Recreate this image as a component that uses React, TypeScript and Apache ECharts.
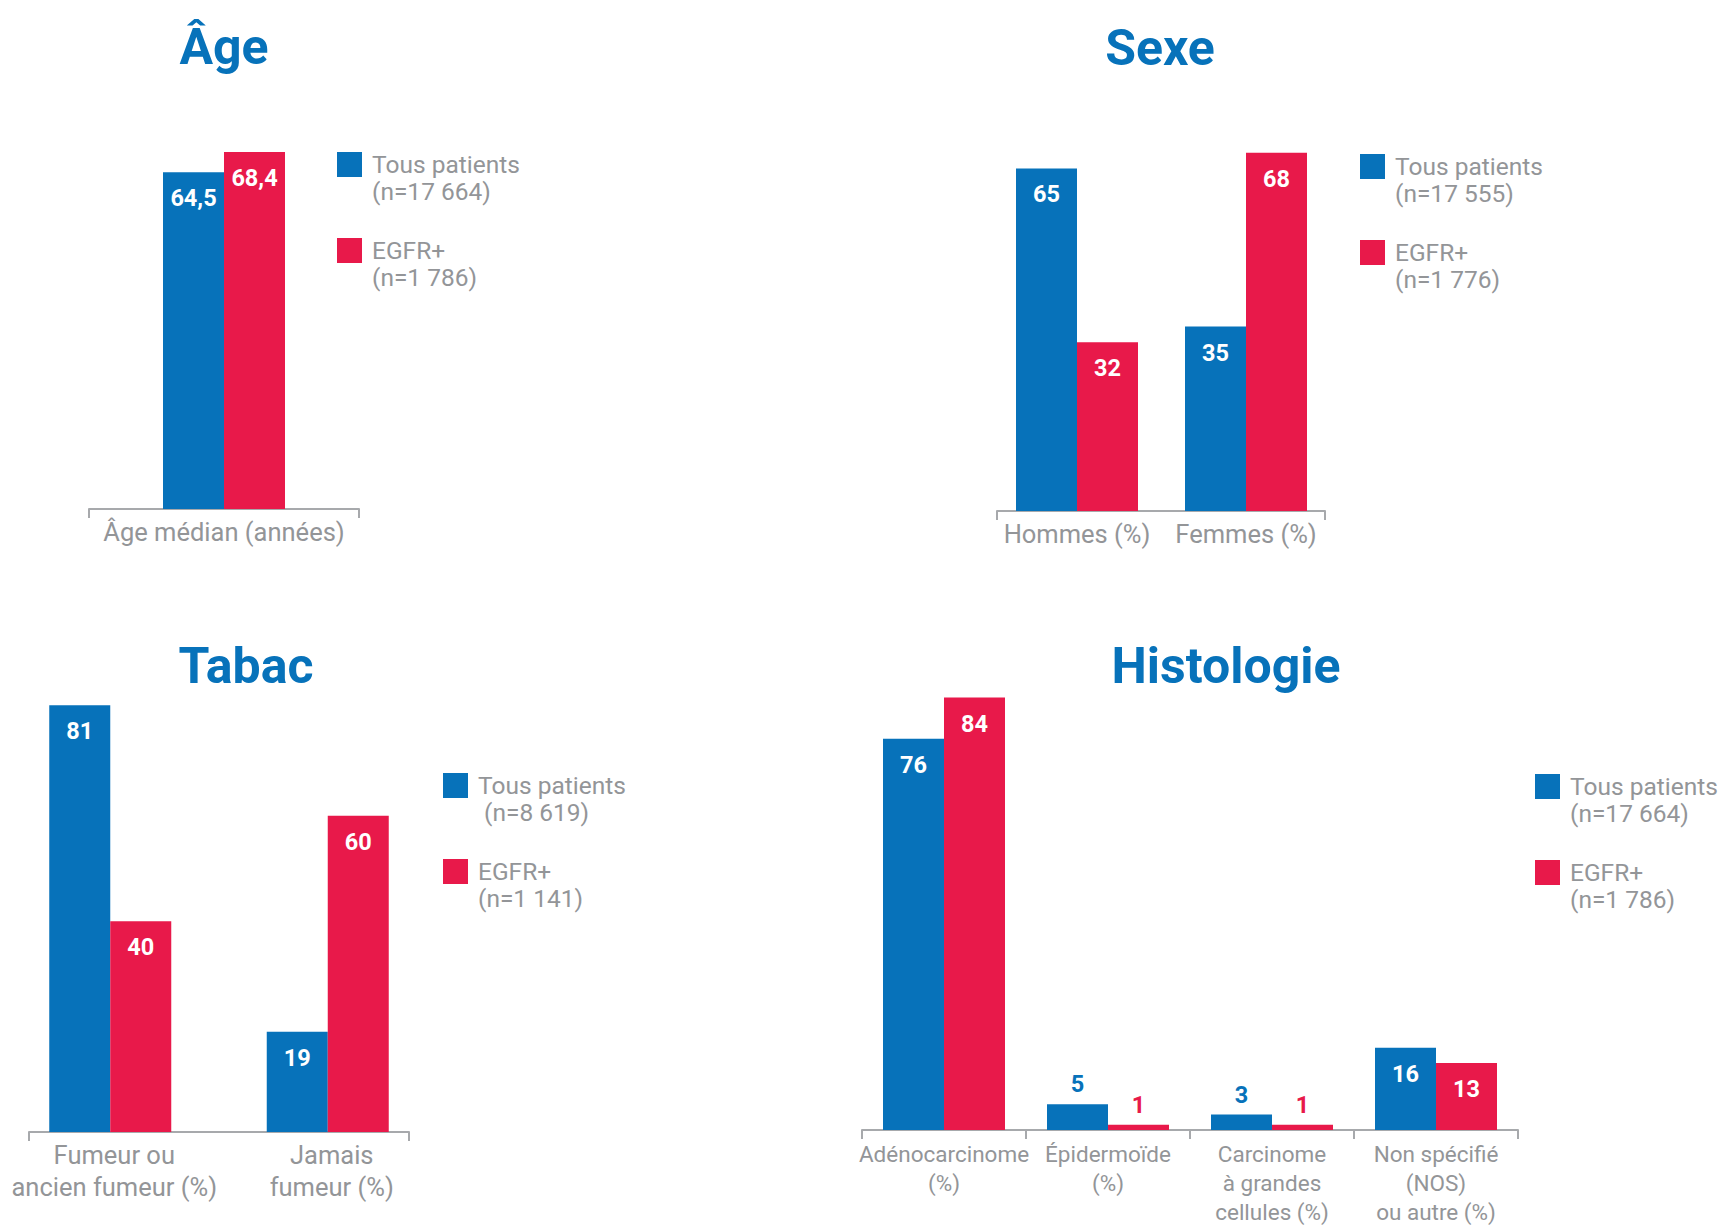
import React, { useEffect, useRef } from 'react';
import * as echarts from 'echarts';

// ---------- data ----------
const ageCategories = ['Âge médian (années)'];
const ageAll = [64.5];
const ageEgfr = [68.4];
const ageLegend = ['Tous patients\n(n=17 664)', 'EGFR+\n(n=1 786)'];

const sexeCategories = ['Hommes (%)', 'Femmes (%)'];
const sexeAll = [65, 35];
const sexeEgfr = [32, 68];
const sexeLegend = ['Tous patients\n(n=17 555)', 'EGFR+\n(n=1 776)'];

const tabacCategories = ['Fumeur ou\nancien fumeur (%)', 'Jamais\nfumeur (%)'];
const tabacAll = [81, 19];
const tabacEgfr = [40, 60];
const tabacLegend = ['Tous patients\n\u00a0(n=8 619)', 'EGFR+\n(n=1 141)'];

const histoCategories = [
  'Adénocarcinome\n(%)',
  'Épidermoïde\n(%)',
  'Carcinome\nà grandes\ncellules (%)',
  'Non spécifié\n(NOS)\nou autre (%)',
];
const histoAll = [76, 5, 3, 16];
const histoEgfr = [84, 1, 1, 13];
const histoLegend = ['Tous patients\n(n=17 664)', 'EGFR+\n(n=1 786)'];

const titles = ['Âge', 'Sexe', 'Tabac', 'Histologie'];

// ---------- styles / layout ----------
const BLUE = '#0772BA';
const RED = '#E8194A';
const GRAY_TEXT = '#939598';
const AXIS_GRAY = '#A7A9AC';
const FONT = 'Roboto';
const Y_MAX = 90;

const panels = [
  {
    title: titles[0], titleX: 224, titleY: 47,
    cats: ageCategories, all: ageAll, egfr: ageEgfr, legend: ageLegend,
    left: 89, width: 270, baseline: 509, scale: 5.22, showAxis: true, frame: null as null | number[],
    legendX: 337, legendY: 152, labelSize: 25.5, labelLH: 32, labelMargin: 7, labelPad: [0, 0, 0, 0],
  },
  {
    title: titles[1], titleX: 1160, titleY: 48,
    cats: sexeCategories, all: sexeAll, egfr: sexeEgfr, legend: sexeLegend,
    left: 992.5, width: 338, baseline: 511, scale: 5.27, showAxis: false, frame: [997, 1325],
    legendX: 1360, legendY: 154, labelSize: 25.5, labelLH: 32, labelMargin: 7, labelPad: [0, 0, 0, 0],
  },
  {
    title: titles[2], titleX: 246, titleY: 666,
    cats: tabacCategories, all: tabacAll, egfr: tabacEgfr, legend: tabacLegend,
    left: 1.5, width: 435, baseline: 1132, scale: 5.27, showAxis: false, frame: [29, 409],
    legendX: 443, legendY: 773, labelSize: 25.5, labelLH: 32, labelMargin: 7, labelPad: [0, 0, 0, 8],
  },
  {
    title: titles[3], titleX: 1226, titleY: 666,
    cats: histoCategories, all: histoAll, egfr: histoEgfr, legend: histoLegend,
    left: 862, width: 656, baseline: 1132, scale: 5.17, showAxis: true, frame: null as null | number[],
    legendX: 1535, legendY: 774, labelSize: 22.5, labelLH: 29, labelMargin: 9, labelPad: [0, 0, 0, 0],
  },
];

const fmt = (v: number) => String(v).replace('.', ',');

function buildOption() {
  const grid: any[] = [];
  const xAxis: any[] = [];
  const yAxis: any[] = [];
  const series: any[] = [];
  const legend: any[] = [];
  const title: any[] = [];

  panels.forEach((p, i) => {
    const gridH = Y_MAX * p.scale;
    grid.push({ left: p.left, width: p.width, top: p.baseline - gridH, height: gridH });
    xAxis.push({
      type: 'category',
      gridIndex: i,
      data: p.cats,
      axisLine: { show: p.showAxis, lineStyle: { color: AXIS_GRAY, width: 2 } },
      axisTick: { show: p.showAxis, length: 9, lineStyle: { color: AXIS_GRAY, width: 2 } },
      axisLabel: {
        interval: 0,
        color: GRAY_TEXT,
        fontFamily: FONT,
        fontSize: p.labelSize,
        lineHeight: p.labelLH,
        margin: p.labelMargin,
        padding: p.labelPad,
      },
      splitLine: { show: false },
    });
    yAxis.push({ type: 'value', gridIndex: i, min: 0, max: Y_MAX, show: false });

    const mk = (name: string, values: number[], color: string) => ({
      type: 'bar',
      name,
      xAxisIndex: i,
      yAxisIndex: i,
      barWidth: 61,
      barGap: '0%',
      itemStyle: { color },
      label: {
        show: true,
        position: 'insideTop',
        distance: 14,
        color: '#ffffff',
        fontFamily: FONT,
        fontWeight: 'bold',
        fontSize: 23.5,
        formatter: (prm: any) => fmt(prm.value),
      },
      data: values.map((v) =>
        v < 10 ? { value: v, label: { position: 'top', distance: 8, color } } : { value: v }
      ),
    });
    series.push(mk(p.legend[0], p.all, BLUE));
    series.push(mk(p.legend[1], p.egfr, RED));

    legend.push({
      orient: 'vertical',
      left: p.legendX,
      top: p.legendY - 28,
      padding: 0,
      itemWidth: 25,
      itemHeight: 25,
      itemGap: 5,
      icon: 'rect',
      selectedMode: false,
      data: p.legend,
      formatter: (name: string) => '\n' + name,
      textStyle: {
        color: GRAY_TEXT,
        fontFamily: FONT,
        fontSize: 24.5,
        lineHeight: 27,
        padding: [0, 0, 0, 5],
      },
    });

    title.push({
      text: p.title,
      left: p.titleX,
      top: p.titleY,
      textAlign: 'center',
      textVerticalAlign: 'middle',
      padding: 0,
      textStyle: { color: BLUE, fontFamily: FONT, fontWeight: 'bold', fontSize: 50 },
    });
  });

  // frame axes (axis line with end ticks only)
  panels.forEach((p) => {
    if (!p.frame) return;
    const k = grid.length;
    grid.push({ left: p.frame[0], width: p.frame[1] - p.frame[0], top: p.baseline - 10, height: 10 });
    xAxis.push({
      type: 'category',
      gridIndex: k,
      data: [''],
      boundaryGap: true,
      axisLine: { show: true, lineStyle: { color: AXIS_GRAY, width: 2 } },
      axisTick: { show: true, length: 9, lineStyle: { color: AXIS_GRAY, width: 2 } },
      axisLabel: { show: false },
      splitLine: { show: false },
    });
    yAxis.push({ type: 'value', gridIndex: k, min: 0, max: 1, show: false });
  });

  return {
    animation: false,
    backgroundColor: '#ffffff',
    title,
    legend,
    grid,
    xAxis,
    yAxis,
    series,
  };
}

export default function App() {
  const ref = useRef<HTMLDivElement>(null);
  useEffect(() => {
    if (!ref.current) return;
    const chart = echarts.init(ref.current, null, { renderer: 'svg' });
    chart.setOption(buildOption() as any);
    return () => chart.dispose();
  }, []);
  return (
    <div
      ref={ref}
      style={{ position: 'absolute', left: 0, top: 0, width: 1725, height: 1226, background: '#fff' }}
    />
  );
}
